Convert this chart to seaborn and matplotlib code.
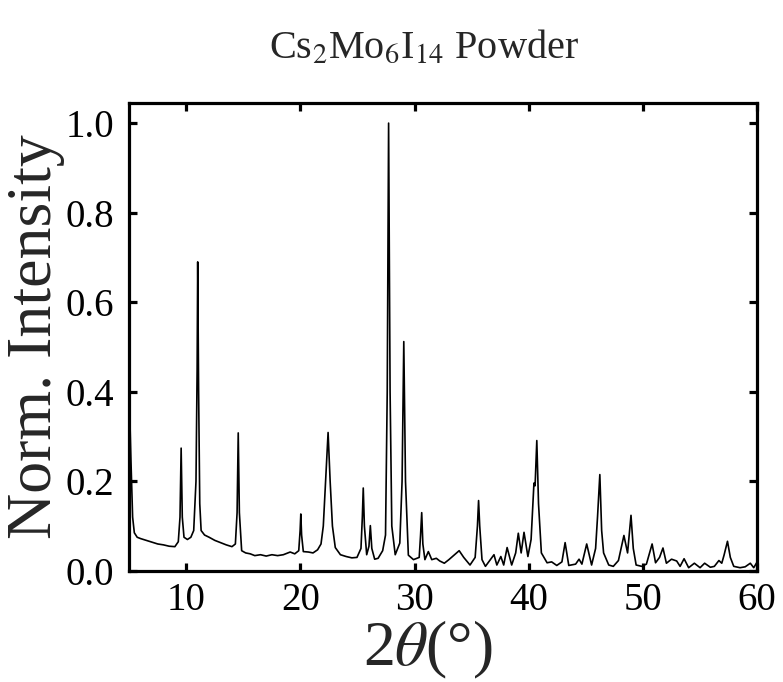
import matplotlib
matplotlib.use("Agg")
import matplotlib.pyplot as plt
import seaborn as sns
import pandas as pd

# 2-theta (deg) and normalized intensity
two_theta = [5.0, 5.15, 5.3, 5.45, 5.7, 6.0, 6.5, 7.0, 7.5, 8.0, 8.5, 9.0, 9.3, 9.45, 9.55, 9.65, 9.8,
             10.1, 10.4, 10.65, 10.85, 10.95, 11.0, 11.08, 11.18, 11.3, 11.6, 12.0, 12.5, 13.0, 13.5,
             14.0, 14.3, 14.45, 14.55, 14.65, 14.85, 15.2, 15.6, 16.0, 16.5, 17.0, 17.5, 18.0, 18.5,
             19.1, 19.5, 19.85, 19.97, 20.03, 20.1, 20.25, 20.7, 21.1, 21.5, 21.8, 22.0, 22.2, 22.42,
             22.6, 22.8, 23.05, 23.5, 24.0, 24.5, 24.95, 25.3, 25.42, 25.5, 25.6, 25.8, 26.0, 26.12,
             26.25, 26.5, 26.8, 27.2, 27.45, 27.6, 27.72, 27.85, 28.0, 28.3, 28.7, 28.9, 29.05, 29.2,
             29.45, 29.9, 30.4, 30.52, 30.62, 30.72, 30.9, 31.2, 31.5, 31.9, 32.2, 32.6, 33.0, 33.4,
             33.9, 34.3, 34.85, 35.3, 35.5, 35.6, 35.7, 35.9, 36.2, 36.95, 37.2, 37.55, 37.8, 38.1,
             38.5, 38.85, 39.08, 39.33, 39.58, 39.92, 40.2, 40.45, 40.55, 40.7, 40.85, 41.1, 41.6,
             42.0, 42.45, 42.9, 43.18, 43.5, 44.1, 44.4, 44.65, 45.07, 45.5, 45.85, 46.02, 46.22,
             46.38, 46.55, 47.0, 47.4, 47.85, 48.33, 48.65, 48.95, 49.15, 49.4, 49.9, 50.3, 50.8,
             51.1, 51.45, 51.75, 52.05, 52.5, 52.95, 53.25, 53.6, 54.0, 54.5, 55.0, 55.4, 55.9,
             56.25, 56.65, 56.9, 57.1, 57.4, 57.65, 57.95, 58.5, 58.95, 59.4, 59.7, 60.0]
intensity = [0.40, 0.25, 0.12, 0.085, 0.075, 0.072, 0.068, 0.064, 0.060, 0.058, 0.055, 0.054, 0.065,
             0.12, 0.274, 0.12, 0.075, 0.070, 0.075, 0.090, 0.20, 0.45, 0.69, 0.40, 0.15, 0.090,
             0.080, 0.075, 0.068, 0.063, 0.058, 0.054, 0.060, 0.13, 0.308, 0.13, 0.045, 0.040, 0.038,
             0.034, 0.036, 0.033, 0.036, 0.034, 0.036, 0.042, 0.038, 0.045, 0.090, 0.127, 0.080,
             0.043, 0.042, 0.040, 0.047, 0.060, 0.10, 0.20, 0.309, 0.20, 0.10, 0.052, 0.036, 0.032,
             0.029, 0.030, 0.050, 0.12, 0.185, 0.10, 0.036, 0.055, 0.101, 0.050, 0.026, 0.028, 0.045,
             0.080, 0.40, 1.0, 0.40, 0.10, 0.036, 0.062, 0.20, 0.512, 0.20, 0.035, 0.025, 0.030, 0.080,
             0.13, 0.060, 0.025, 0.043, 0.025, 0.028, 0.022, 0.017, 0.025, 0.034, 0.045, 0.030, 0.013,
             0.030, 0.10, 0.157, 0.10, 0.025, 0.010, 0.036, 0.013, 0.032, 0.013, 0.052, 0.013, 0.040,
             0.084, 0.040, 0.086, 0.032, 0.070, 0.196, 0.190, 0.291, 0.15, 0.040, 0.018, 0.020, 0.012,
             0.020, 0.063, 0.012, 0.015, 0.026, 0.015, 0.060, 0.013, 0.050, 0.121, 0.215, 0.090,
             0.040, 0.013, 0.010, 0.023, 0.079, 0.040, 0.124, 0.050, 0.013, 0.010, 0.015, 0.060,
             0.018, 0.030, 0.051, 0.017, 0.026, 0.022, 0.010, 0.027, 0.007, 0.017, 0.007, 0.017,
             0.008, 0.010, 0.023, 0.017, 0.035, 0.066, 0.030, 0.010, 0.007, 0.009, 0.017, 0.007, 0.020]

x_ticks = [10, 20, 30, 40, 50, 60]
y_ticks = [0.0, 0.2, 0.4, 0.6, 0.8, 1.0]

sns.set_theme(style="ticks")
plt.rcParams["font.family"] = ["Liberation Serif", "DejaVu Serif"]
plt.rcParams["mathtext.fontset"] = "stix"

df = pd.DataFrame({"two_theta": two_theta, "intensity": intensity})

fig = plt.figure(figsize=(7.83, 6.82), dpi=100)
ax = fig.add_axes([0.165, 0.163, 0.802, 0.686])
sns.lineplot(data=df, x="two_theta", y="intensity", ax=ax, color="black",
             linewidth=1.2, sort=False, estimator=None)

ax.set_xlim(5, 60)
ax.set_ylim(0, 1.045)
ax.set_xticks(x_ticks)
ax.set_xticklabels([str(t) for t in x_ticks])
ax.set_yticks(y_ticks)
ax.set_yticklabels([f"{t:.1f}" for t in y_ticks])

for s in ax.spines.values():
    s.set_linewidth(2.3)
    s.set_color("black")
ax.tick_params(direction="in", length=6, width=2.3, top=True, right=True,
               labelsize=28, colors="black")
ax.tick_params(axis="y", pad=11)
ax.tick_params(axis="x", pad=8)

ax.set_xlabel("")
ax.set_ylabel("Norm. Intensity", fontsize=46, labelpad=0)
fig.text(0.546, 0.001, r"2$\theta$(°)", fontsize=46, ha="center", va="bottom")
fig.text(0.541, 0.93, r"Cs$_2$Mo$_6$I$_{14}$ Powder", fontsize=29, ha="center", va="center")

fig.savefig("out.png", dpi=100)
